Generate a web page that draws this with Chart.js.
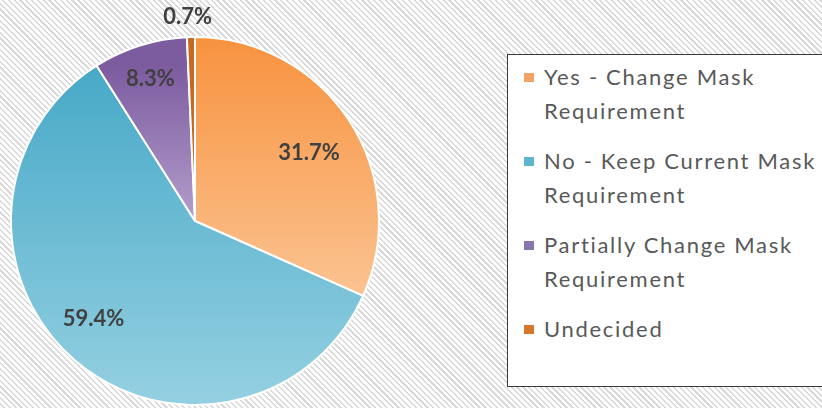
<!DOCTYPE html>
<html><head><meta charset="utf-8">
<script src="https://cdn.jsdelivr.net/npm/chart.js@4.4.1/dist/chart.umd.min.js"></script>
<style>
html,body{margin:0;padding:0;width:822px;height:408px;overflow:hidden;}
body{background:#fff repeating-linear-gradient(45deg,#ffffff 0px,#ffffff 2.5px,#d9d9d9 2.5px,#d9d9d9 4.1px);}
#wrap{position:relative;width:822px;height:408px;}
#c{position:absolute;left:0;top:0;}
#legend{position:absolute;left:507px;top:54px;width:340px;height:333px;box-sizing:border-box;border:1.5px solid #3a3a3a;background:#fff;font-family:Lato,"Open Sans",sans-serif;font-size:22px;letter-spacing:1.7px;color:#595959;padding-top:5px;}
.item{position:relative;padding-left:36px;width:290px;line-height:34px;margin-bottom:16px;}
.mk{position:absolute;left:16px;top:13px;width:10px;height:9px;}
</style></head>
<body><div id="wrap"><canvas id="c" width="822" height="408"></canvas><div id="legend"></div></div>
<script>
const categories = ["Yes - Change Mask Requirement","No - Keep Current Mask Requirement","Partially Change Mask Requirement","Undecided"];
const values = [31.7, 59.4, 8.3, 0.7];
const pctLabels = values.map(v => v.toFixed(1) + "%");

// styling (not data)
const gradStops = [
  [[0.0,"#F7923E"],[0.70,"#FBC391"]],
  [[0.08,"#47A9C7"],[0.98,"#93CFE1"]],
  [[0.08,"#7C5B9F"],[0.50,"#B39ECC"]],
  [[0.0,"#C8691F"],[1.0,"#C8691F"]]
];
const markerColors = ["#F5A265","#5EB6CC","#8A76AE","#D5782E"];
const labelRadius = [0.72, 0.765, 0.81, 1.11];
const labelShiftDeg = [2.3, 5.3, 0, -0.8];

const pctPlugin = {
  id: 'pct',
  afterDatasetsDraw(chart) {
    const ctx = chart.ctx;
    const meta = chart.getDatasetMeta(0);
    ctx.save();
    ctx.font = "bold 22px Lato, 'Open Sans', sans-serif";
    ctx.fillStyle = "#404040";
    ctx.textAlign = "center";
    ctx.textBaseline = "middle";
    meta.data.forEach((arc, i) => {
      const p = arc.getProps(['x','y','startAngle','endAngle','outerRadius'], true);
      const mid = (p.startAngle + p.endAngle) / 2 + labelShiftDeg[i] * Math.PI / 180;
      const r = p.outerRadius * labelRadius[i];
      ctx.fillText(pctLabels[i], p.x + Math.cos(mid) * r, p.y + Math.sin(mid) * r);
    });
    ctx.restore();
  }
};

new Chart(document.getElementById('c'), {
  type: 'pie',
  data: {
    labels: categories,
    datasets: [{
      data: values,
      backgroundColor: (c) => {
        const a = c.chart.chartArea;
        const s = gradStops[c.dataIndex];
        if (!a) return s[0][1];
        const g = c.chart.ctx.createLinearGradient(0, a.top, 0, a.bottom);
        s.forEach(st => g.addColorStop(st[0], st[1]));
        return g;
      },
      borderColor: "#ffffff",
      borderWidth: 2
    }]
  },
  options: {
    responsive: false,
    animation: false,
    layout: { padding: { top: 36, bottom: 2, left: 10, right: 442 } },
    plugins: { legend: { display: false }, tooltip: { enabled: false } }
  },
  plugins: [pctPlugin]
});

const lg = document.getElementById('legend');
categories.forEach((name, i) => {
  const d = document.createElement('div');
  d.className = 'item';
  const m = document.createElement('span');
  m.className = 'mk';
  m.style.background = markerColors[i];
  d.appendChild(m);
  d.appendChild(document.createTextNode(name));
  lg.appendChild(d);
});
</script>
</body></html>
